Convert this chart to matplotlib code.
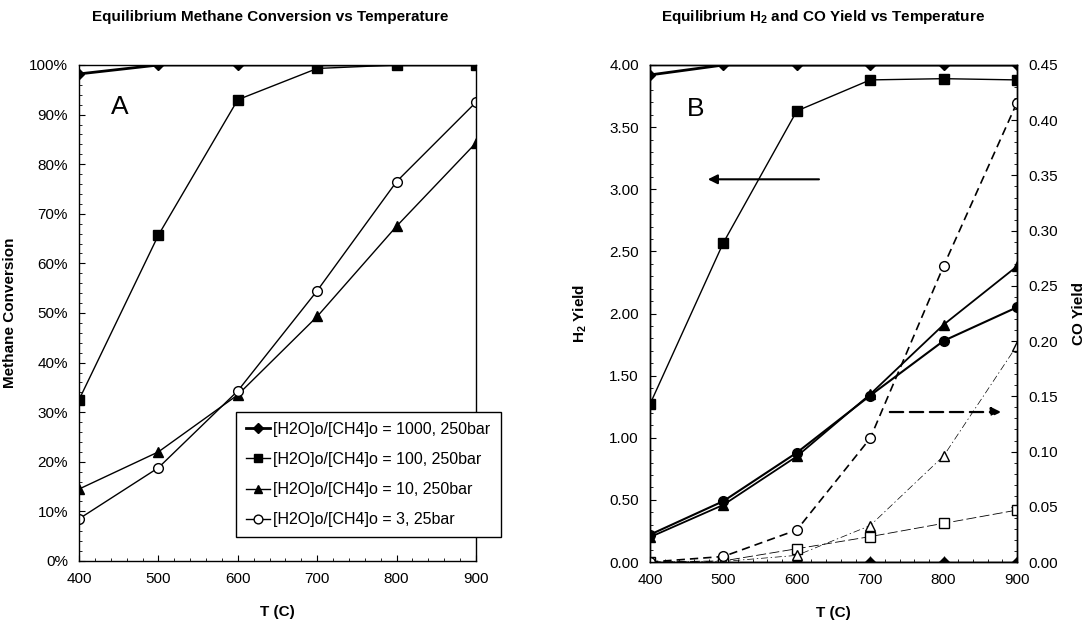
import matplotlib
matplotlib.use("Agg")
import matplotlib.pyplot as plt
from matplotlib.ticker import MultipleLocator, PercentFormatter, FormatStrFormatter

plt.rcParams.update({
    "font.family": ["Liberation Sans", "DejaVu Sans"],
    "mathtext.fontset": "custom",
    "mathtext.rm": "Liberation Sans",
    "mathtext.bf": "Liberation Sans:bold",
    "axes.linewidth": 1.0,
})

# ---------- data ----------
temps = [400, 500, 600, 700, 800, 900]
labels = ["[H2O]o/[CH4]o = 1000, 250bar", "[H2O]o/[CH4]o = 100, 250bar",
          "[H2O]o/[CH4]o = 10, 250bar", "[H2O]o/[CH4]o = 3, 25bar"]

conv_1000 = [98.2, 100.0, 100.0, 100.0, 100.0, 100.0]
conv_100 = [32.5, 65.7, 93.0, 99.3, 100.0, 100.0]
conv_10 = [14.5, 22.0, 33.5, 49.3, 67.5, 84.3]
conv_3 = [8.5, 18.8, 34.3, 54.5, 76.5, 92.5]

h2_1000 = [3.92, 4.00, 4.00, 4.00, 4.00, 4.00]
h2_100 = [1.27, 2.57, 3.63, 3.88, 3.89, 3.88]
h2_10 = [0.20, 0.46, 0.85, 1.35, 1.91, 2.38]
h2_3 = [0.22, 0.49, 0.88, 1.34, 1.78, 2.05]

co_1000 = [0.0, 0.0, 0.0, 0.0, 0.0, 0.0]
co_100 = [0.0, 0.001, 0.012, 0.023, 0.035, 0.047]
co_10 = [0.0, 0.0005, 0.006, 0.033, 0.096, 0.196]
co_3 = [0.0, 0.005, 0.029, 0.112, 0.268, 0.416]

W, H = 1086, 623
fig = plt.figure(figsize=(W / 100, H / 100), dpi=100)


def px_axes(x0, y0, x1, y1):
    return fig.add_axes([x0 / W, 1 - y1 / H, (x1 - x0) / W, (y1 - y0) / H])


def style_ticks(ax):
    ax.tick_params(which="both", direction="in", labelsize=11, pad=8)
    ax.tick_params(which="major", length=4)
    ax.tick_params(which="minor", length=2.5)
    ax.xaxis.set_major_locator(MultipleLocator(100))
    ax.xaxis.set_minor_locator(MultipleLocator(20))
    ax.set_xlim(400, 900)


LAB = dict(fontsize=11, fontweight="bold")
TITLE = dict(fontsize=11, fontweight="bold", ha="center", va="center")

# ============ A ============
axA = px_axes(79, 65, 476, 561)
axA.plot(temps, conv_1000, color="k", lw=2.0, marker="D", ms=5.5, label=labels[0])
axA.plot(temps, conv_100, color="k", lw=1.0, marker="s", ms=7, label=labels[1])
axA.plot(temps, conv_10, color="k", lw=1.0, marker="^", ms=7, label=labels[2])
axA.plot(temps, conv_3, color="k", lw=1.0, marker="o", ms=7, mfc="white",
         label=labels[3])
axA.set_ylim(0, 100)
axA.yaxis.set_major_locator(MultipleLocator(10))
axA.yaxis.set_minor_locator(MultipleLocator(2))
axA.yaxis.set_major_formatter(PercentFormatter(decimals=0))
style_ticks(axA)
axA.set_xlabel("T (C)", **LAB)
axA.set_ylabel("Methane Conversion", **LAB)
axA.xaxis.set_label_coords(0.5, -0.088)
axA.yaxis.set_label_coords(-0.155, 0.5)
axA.text(0.103, 0.915, "A", transform=axA.transAxes, fontsize=19,
         ha="center", va="center")
fig.text(270 / W, 1 - 17 / H, "Equilibrium Methane Conversion vs Temperature", **TITLE)
leg = axA.legend(loc="lower left", bbox_to_anchor=(236 / W, 1 - 537 / H, 265 / W, 125 / H),
                 bbox_transform=fig.transFigure, mode="expand", fontsize=11.5,
                 frameon=True, fancybox=False, edgecolor="k", framealpha=1,
                 handlelength=1.5, handletextpad=0.2, labelspacing=0.95,
                 borderpad=0.6, borderaxespad=0, markerscale=0.9)
leg.get_frame().set_linewidth(1.0)

# ============ B ============
axB = px_axes(650, 65, 1017, 562)
axC = axB.twinx()
axB.plot(temps, h2_1000, color="k", lw=2.0, marker="D", ms=5.5, zorder=5)
axB.plot(temps, h2_100, color="k", lw=1.0, marker="s", ms=7, zorder=5)
axB.plot(temps, h2_10, color="k", lw=1.3, marker="^", ms=7, zorder=5)
axB.plot(temps, h2_3, color="k", lw=1.5, marker="o", ms=7, zorder=5)
axC.plot(temps, co_1000, color="k", lw=1.0, marker="D", ms=5.5)
axC.plot(temps, co_100, color="k", lw=0.6, ls=(0, (12, 4)), marker="s", ms=7,
         mfc="white")
axC.plot(temps, co_10, color="k", lw=0.5, ls=(0, (10, 4, 2, 4)), marker="^", ms=7,
         mfc="white")
axC.plot(temps, co_3, color="k", lw=1.2, ls=(0, (5, 3)), marker="o", ms=7,
         mfc="white")
axB.set_ylim(0, 4)
axC.set_ylim(0, 0.45)
axB.yaxis.set_major_locator(MultipleLocator(0.5))
axB.yaxis.set_minor_locator(MultipleLocator(0.1))
axB.yaxis.set_major_formatter(FormatStrFormatter("%.2f"))
axC.yaxis.set_major_locator(MultipleLocator(0.05))
axC.yaxis.set_minor_locator(MultipleLocator(0.01))
axC.yaxis.set_major_formatter(FormatStrFormatter("%.2f"))
style_ticks(axB)
axC.tick_params(which="both", direction="in", labelsize=11, pad=8)
axC.tick_params(which="major", length=4)
axC.tick_params(which="minor", length=2.5)
axB.set_xlabel("T (C)", **LAB)
axB.set_ylabel(r"H$_\mathbf{2}$ Yield", **LAB)
axC.set_ylabel("CO Yield", rotation=90, **LAB)
axB.xaxis.set_label_coords(0.5, -0.088)
axB.yaxis.set_label_coords(-0.166, 0.5)
axC.yaxis.set_label_coords(1.15, 0.5)
axB.text(0.123, 0.912, "B", transform=axB.transAxes, fontsize=19,
         ha="center", va="center")
axB.annotate("", xy=(475, 3.08), xytext=(634, 3.08),
             arrowprops=dict(arrowstyle="-|>", color="k", lw=1.5,
                             mutation_scale=14))
axB.annotate("", xy=(882, 1.207), xytext=(723, 1.207),
             arrowprops=dict(arrowstyle="-|>", color="k", lw=1.6, ls=(0, (6, 3)),
                             mutation_scale=14))
fig.text(823 / W, 1 - 17 / H, r"Equilibrium H$_\mathbf{2}$ and CO Yield vs Temperature",
         **TITLE)

fig.savefig("out.png", dpi=100)
